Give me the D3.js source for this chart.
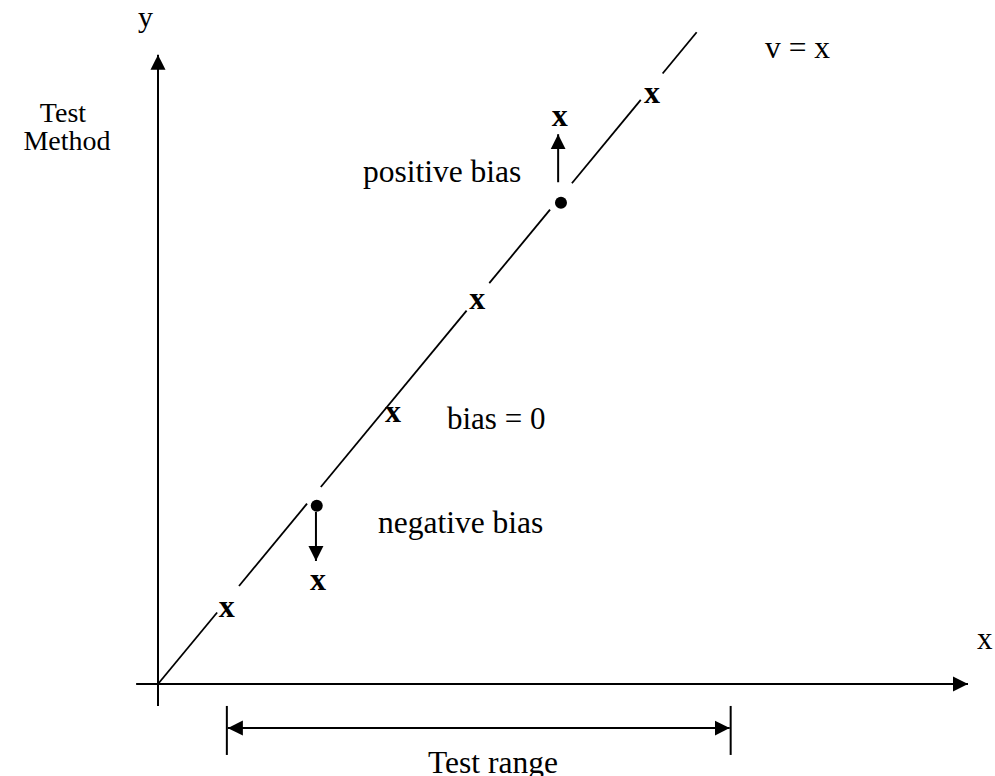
<!DOCTYPE html>
<html>
<head>
<meta charset="utf-8">
<script src="https://cdn.jsdelivr.net/npm/d3@7"></script>
<style>
  body { margin: 0; background: #fff; }
  svg { display: block; }
  text { font-family: "Liberation Serif", "Times New Roman", serif; fill: #000; }
</style>
</head>
<body>
<div id="chart"></div>
<script>
// pieces of the y = x line (x ranges in data units), broken where marks sit
var lineSegments = [[0, 7.3], [10, 18.4], [20.1, 38.1], [40.9, 48.4], [51.1, 59.6], [62.3, 66.5]];
// "x" marks lying on the line (bias = 0)
var onLineX = [8.5, 29.0, 39.4, 61.0];
var onLineY = [7.55, 27.4, 39.0, 60.0];
// true values (dots) and the biased test results
var biasNames = ["negative", "positive"];
var dotX = [19.6, 49.75];
var dotY = [18.2, 49.1];
var arrowX = [19.5, 49.4];
var arrowFrom = [17.55, 51.2];
var arrowTo = [12.55, 56.1];
var resultX = [19.75, 49.6];
var resultY = [10.3, 57.7];
// axes and test range
var xAxisExtent = [-2.7, 100];
var yAxisExtent = [-2.24, 64.2];
var testRange = [8.5, 70.7];
var rangeTickY = [-2.24, -7.24];
var rangeArrowY = -4.5;

var width = 995, height = 776;

var x = d3.scaleLinear().domain([0, 100]).range([158, 968]);
var y = d3.scaleLinear().domain([0, 100]).range([684, -296]);

var svg = d3.select("#chart").append("svg")
  .attr("width", width)
  .attr("height", height);

var defs = svg.append("defs");
defs.append("marker")
  .attr("id", "head")
  .attr("viewBox", "0 0 10 10")
  .attr("refX", 10).attr("refY", 5)
  .attr("markerUnits", "userSpaceOnUse")
  .attr("markerWidth", 15).attr("markerHeight", 16)
  .attr("orient", "auto-start-reverse")
  .append("path")
  .attr("d", "M0,0L10,5L0,10Z")
  .attr("fill", "#000");

// axes
svg.append("line")
  .attr("x1", x(xAxisExtent[0])).attr("x2", x(xAxisExtent[1]))
  .attr("y1", y(0)).attr("y2", y(0))
  .attr("stroke", "#000").attr("stroke-width", 2)
  .attr("marker-end", "url(#head)");
svg.append("line")
  .attr("x1", x(0)).attr("x2", x(0))
  .attr("y1", y(yAxisExtent[0])).attr("y2", y(yAxisExtent[1]))
  .attr("stroke", "#000").attr("stroke-width", 2)
  .attr("marker-end", "url(#head)");

// y = x line
svg.selectAll(".diag")
  .data(lineSegments)
  .enter().append("line")
  .attr("class", "diag")
  .attr("x1", function(d) { return x(d[0]); })
  .attr("y1", function(d) { return y(d[0]); })
  .attr("x2", function(d) { return x(d[1]); })
  .attr("y2", function(d) { return y(d[1]); })
  .attr("stroke", "#000").attr("stroke-width", 1.8);

// x marks on the line
svg.selectAll(".mark")
  .data(onLineX)
  .enter().append("text")
  .attr("class", "mark")
  .attr("x", function(d) { return x(d); })
  .attr("y", function(d, i) { return y(onLineY[i]) + 7; })
  .attr("text-anchor", "middle")
  .style("font-size", "32px").style("font-weight", "bold")
  .text("x");

// bias dots, arrows and results
svg.selectAll(".dot")
  .data(biasNames)
  .enter().append("circle")
  .attr("class", "dot")
  .attr("cx", function(d, i) { return x(dotX[i]); })
  .attr("cy", function(d, i) { return y(dotY[i]); })
  .attr("r", 6)
  .attr("fill", "#000");

svg.selectAll(".barrow")
  .data(biasNames)
  .enter().append("line")
  .attr("class", "barrow")
  .attr("x1", function(d, i) { return x(arrowX[i]); })
  .attr("x2", function(d, i) { return x(arrowX[i]); })
  .attr("y1", function(d, i) { return y(arrowFrom[i]); })
  .attr("y2", function(d, i) { return y(arrowTo[i]); })
  .attr("stroke", "#000").attr("stroke-width", 2)
  .attr("marker-end", "url(#head)");

svg.selectAll(".result")
  .data(biasNames)
  .enter().append("text")
  .attr("class", "result")
  .attr("x", function(d, i) { return x(resultX[i]); })
  .attr("y", function(d, i) { return y(resultY[i]) + 7; })
  .attr("text-anchor", "middle")
  .style("font-size", "32px").style("font-weight", "bold")
  .text("x");

// test range
svg.selectAll(".rtick")
  .data(testRange)
  .enter().append("line")
  .attr("class", "rtick")
  .attr("x1", function(d) { return x(d); })
  .attr("x2", function(d) { return x(d); })
  .attr("y1", y(rangeTickY[0])).attr("y2", y(rangeTickY[1]))
  .attr("stroke", "#000").attr("stroke-width", 2);
svg.append("line")
  .attr("x1", x(testRange[0]) + 1).attr("x2", x(testRange[1]) - 1)
  .attr("y1", y(rangeArrowY)).attr("y2", y(rangeArrowY))
  .attr("stroke", "#000").attr("stroke-width", 2)
  .attr("marker-start", "url(#head)")
  .attr("marker-end", "url(#head)");

// labels
function label(t, px, py, size, anchor) {
  svg.append("text")
    .attr("x", px).attr("y", py)
    .attr("text-anchor", anchor || "start")
    .style("font-size", size + "px")
    .text(t);
}
label("y", 138, 27, 30);
label("Test", 63, 122, 28, "middle");
label("Method", 67, 150, 28, "middle");
label("v = x", 765, 58, 31.5);
label("positive bias", 363, 182, 31.5);
label("bias = 0", 447, 429, 31);
label("negative bias", 378, 533, 31.5);
label("x", 977, 649, 31);
label("Test range", 428, 773, 31.5);
</script>
</body>
</html>
